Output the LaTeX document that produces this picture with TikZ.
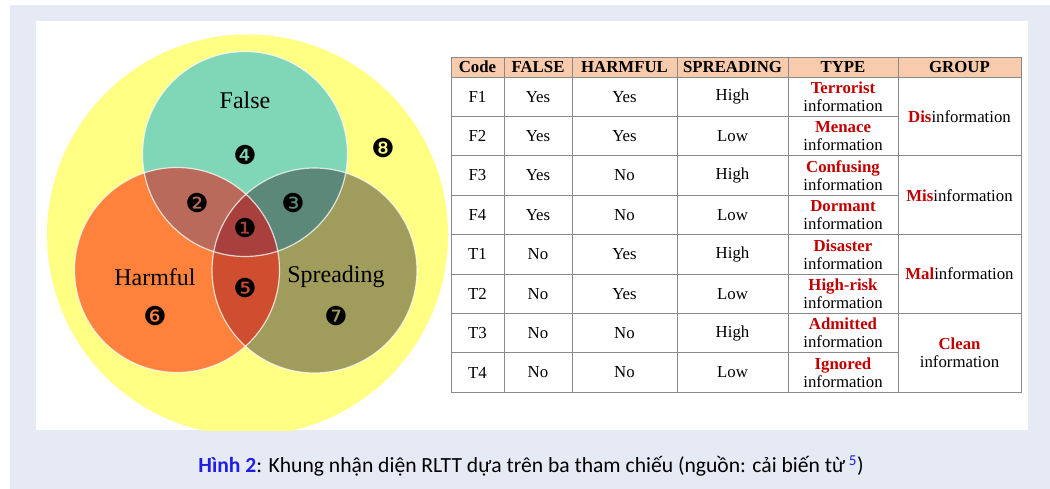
\documentclass[tikz,border=0pt]{standalone}
\usepackage{fontspec}
\setmainfont{Liberation Serif}
\newfontfamily\capfont{Carlito}
\newfontfamily\dingfont{DejaVu Sans}
\usetikzlibrary{positioning}
\definecolor{panel}{HTML}{E6EAF5}
\definecolor{venny}{HTML}{FFFF84}
\definecolor{falsec}{HTML}{80D7B8}
\definecolor{harmc}{HTML}{FF823C}
\definecolor{sprc}{HTML}{A09C5C}
\definecolor{fhc}{HTML}{B96A5B}
\definecolor{fsc}{HTML}{5B8878}
\definecolor{hsc}{HTML}{D04E30}
\definecolor{allc}{HTML}{A8403E}
\definecolor{headfill}{HTML}{F8CBAD}
\definecolor{rulegray}{HTML}{8A8A8A}
\definecolor{darkred}{HTML}{C00000}
\definecolor{capblue}{HTML}{1E1EE6}
\newcommand{\hl}[1]{\textcolor{darkred}{\textbf{#1}}}

\begin{document}
\begin{tikzpicture}
	[x=1pt, y=-1pt, inner sep=0pt,
	setlabel/.style	= {font=\fontsize{24}{24}\selectfont},
	badge/.style	= {font=\dingfont\fontsize{26}{26}\selectfont},
	rim/.style	= {draw=white, draw opacity=0.75, line width=1.2pt},
	cell/.style	= {rectangle, draw=rulegray, line width=0.9pt, minimum height=39.4pt, align=center,
	                   font=\fontsize{16.8}{18}\selectfont},
	head/.style	= {cell, fill=headfill, minimum height=20pt, font=\fontsize{16.8}{18}\selectfont\bfseries},
	grp/.style	= {cell, minimum height=78.8pt, minimum width=123pt},
	wcode/.style	= {minimum width=53pt},
	wfalse/.style	= {minimum width=68pt},
	wharm/.style	= {minimum width=105pt},
	wspr/.style	= {minimum width=111pt},
	wtype/.style	= {minimum width=110pt}]
	
	\useasboundingbox (0,0) rectangle (1050,489);
	\fill[panel] (10,5) rectangle (1050,489);
	\fill[white] (36,21) rectangle (1028,430);
	
	% venn
	\begin{scope}
		\clip (36,21) rectangle (1028,430);
		\fill[venny] (247.5,235) circle (200.5pt);
	\end{scope}
	\coordinate (cf) at (245,154);
	\coordinate (ch) at (177,270);
	\coordinate (cs) at (314.5,270.5);
	\fill[falsec] (cf) circle (102.5pt);
	\fill[harmc] (ch) circle (102.5pt);
	\fill[sprc] (cs) circle (102.5pt);
	\begin{scope}
		\clip (ch) circle (102.5pt);
		\fill[hsc] (cs) circle (102.5pt);
	\end{scope}
	\begin{scope}
		\clip (cf) circle (102.5pt);
		\fill[fhc] (ch) circle (102.5pt);
		\fill[fsc] (cs) circle (102.5pt);
		\clip (ch) circle (102.5pt);
		\fill[allc] (cs) circle (102.5pt);
	\end{scope}
	\draw[rim] (cf) circle (102.5pt);
	\draw[rim] (ch) circle (102.5pt);
	\draw[rim] (cs) circle (102.5pt);
	
	\node at (245, 100)	[setlabel]	(lfalse)	{False};
	\node at (155, 277)	[setlabel]	(lharm)	{Harmful};
	\node at (336, 277)	[setlabel]	(lspr)	{Spreading};
	
	\node at (245, 228)	[badge]	(n1)	{❶};
	\node at (197, 203)	[badge]	(n2)	{❷};
	\node at (293, 203)	[badge]	(n3)	{❸};
	\node at (245, 155)	[badge]	(n4)	{❹};
	\node at (245, 288)	[badge]	(n5)	{❺};
	\node at (155, 316)	[badge]	(n6)	{❻};
	\node at (336, 316)	[badge]	(n7)	{❼};
	\node at (383, 148)	[badge]	(n8)	{❽};
	
	% table
	\node at (477.5, 67)	[head, wcode]	(hcode)	{Code};
	\node at (538, 67)	[head, wfalse]	(hfalse)	{FALSE};
	\node at (624.5, 67)	[head, wharm]	(hharm)	{HARMFUL};
	\node at (732.5, 67)	[head, wspr]	(hspr)	{SPREADING};
	\node at (843, 67)	[head, wtype]	(htype)	{TYPE};
	\node at (959.5, 67)	[head, minimum width=123pt]	(hgrp)	{GROUP};
	
	\node at (477.5, 96.7)	[cell, wcode]	(code1)	{F1};
	\node at (538, 96.7)	[cell, wfalse]	(fal1)	{Yes};
	\node at (624.5, 96.7)	[cell, wharm]	(harm1)	{Yes};
	\node at (732.5, 96.7)	[cell, wspr]	(spr1)	{High};
	\node at (843, 96.7)	[cell, wtype]	(type1)	{\hl{Terrorist}\\information};
	
	\node at (477.5, 136.1)	[cell, wcode]	(code2)	{F2};
	\node at (538, 136.1)	[cell, wfalse]	(fal2)	{Yes};
	\node at (624.5, 136.1)	[cell, wharm]	(harm2)	{Yes};
	\node at (732.5, 136.1)	[cell, wspr]	(spr2)	{Low};
	\node at (843, 136.1)	[cell, wtype]	(type2)	{\hl{Menace}\\information};
	
	\node at (477.5, 175.5)	[cell, wcode]	(code3)	{F3};
	\node at (538, 175.5)	[cell, wfalse]	(fal3)	{Yes};
	\node at (624.5, 175.5)	[cell, wharm]	(harm3)	{No};
	\node at (732.5, 175.5)	[cell, wspr]	(spr3)	{High};
	\node at (843, 175.5)	[cell, wtype]	(type3)	{\hl{Confusing}\\information};
	
	\node at (477.5, 214.9)	[cell, wcode]	(code4)	{F4};
	\node at (538, 214.9)	[cell, wfalse]	(fal4)	{Yes};
	\node at (624.5, 214.9)	[cell, wharm]	(harm4)	{No};
	\node at (732.5, 214.9)	[cell, wspr]	(spr4)	{Low};
	\node at (843, 214.9)	[cell, wtype]	(type4)	{\hl{Dormant}\\information};
	
	\node at (477.5, 254.3)	[cell, wcode]	(code5)	{T1};
	\node at (538, 254.3)	[cell, wfalse]	(fal5)	{No};
	\node at (624.5, 254.3)	[cell, wharm]	(harm5)	{Yes};
	\node at (732.5, 254.3)	[cell, wspr]	(spr5)	{High};
	\node at (843, 254.3)	[cell, wtype]	(type5)	{\hl{Disaster}\\information};
	
	\node at (477.5, 293.7)	[cell, wcode]	(code6)	{T2};
	\node at (538, 293.7)	[cell, wfalse]	(fal6)	{No};
	\node at (624.5, 293.7)	[cell, wharm]	(harm6)	{Yes};
	\node at (732.5, 293.7)	[cell, wspr]	(spr6)	{Low};
	\node at (843, 293.7)	[cell, wtype]	(type6)	{\hl{High-risk}\\information};
	
	\node at (477.5, 333.1)	[cell, wcode]	(code7)	{T3};
	\node at (538, 333.1)	[cell, wfalse]	(fal7)	{No};
	\node at (624.5, 333.1)	[cell, wharm]	(harm7)	{No};
	\node at (732.5, 333.1)	[cell, wspr]	(spr7)	{High};
	\node at (843, 333.1)	[cell, wtype]	(type7)	{\hl{Admitted}\\information};
	
	\node at (477.5, 372.5)	[cell, wcode]	(code8)	{T4};
	\node at (538, 372.5)	[cell, wfalse]	(fal8)	{No};
	\node at (624.5, 372.5)	[cell, wharm]	(harm8)	{No};
	\node at (732.5, 372.5)	[cell, wspr]	(spr8)	{Low};
	\node at (843, 372.5)	[cell, wtype]	(type8)	{\hl{Ignored}\\information};
	
	\node at (959.5, 116.4)	[grp]	(grp1)	{\hl{Dis}information};
	\node at (959.5, 195.2)	[grp]	(grp2)	{\hl{Mis}information};
	\node at (959.5, 274)	[grp]	(grp3)	{\hl{Mal}information};
	\node at (959.5, 352.8)	[grp]	(grp4)	{\hl{Clean}\\information};
	
	\node at (531, 466)	(caption)	{\capfont\fontsize{21.6}{21.6}\selectfont\textcolor{capblue}{\textbf{Hình 2}}: Khung nhận diện RLTT dựa trên ba tham chiếu (nguồn: cải biến từ\,\textsuperscript{\textcolor{capblue}{5}})};
\end{tikzpicture}
\end{document}
